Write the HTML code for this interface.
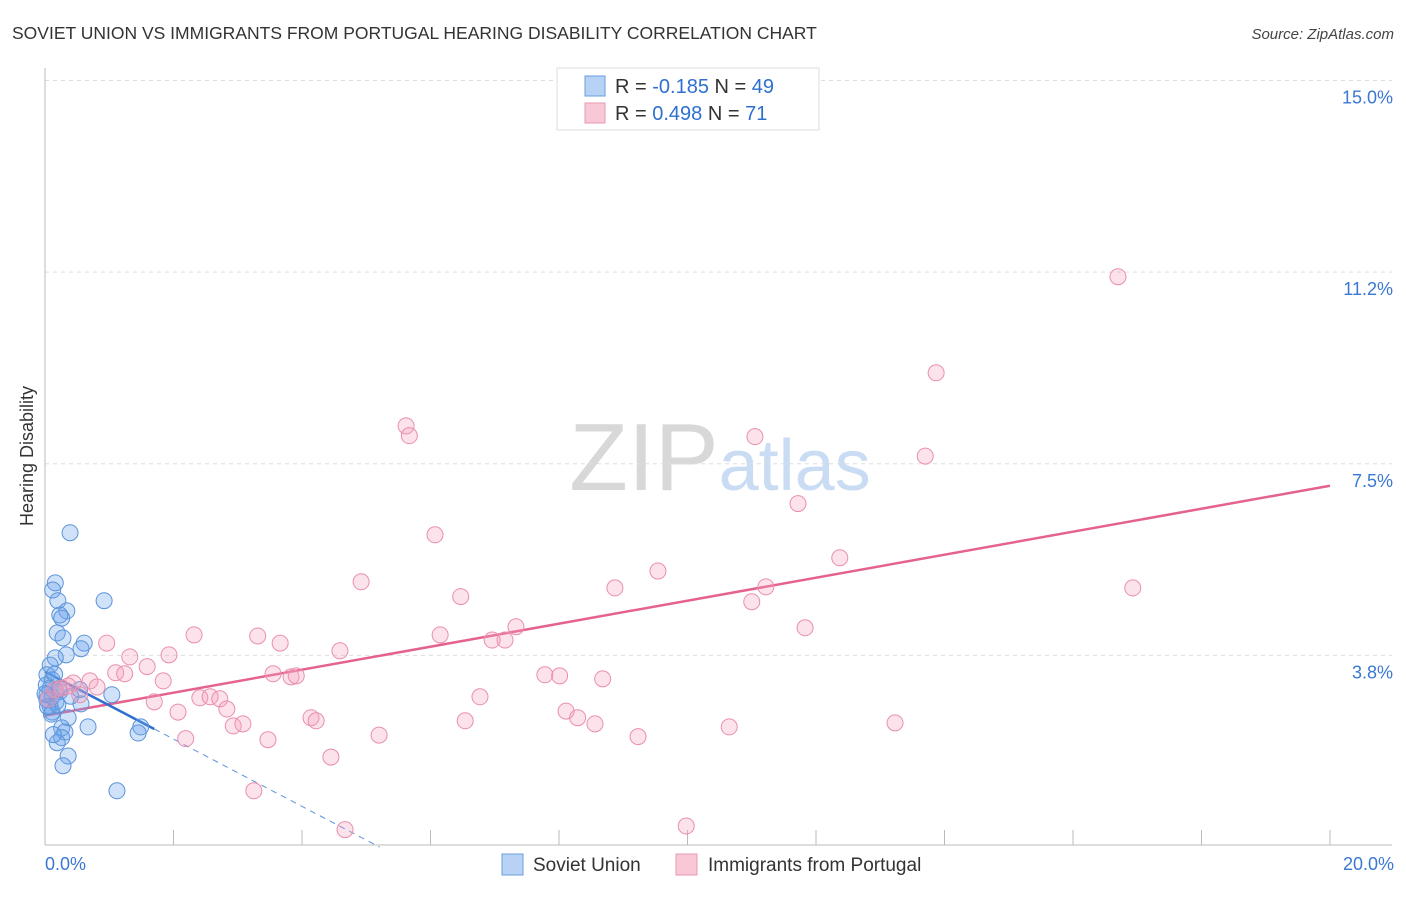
<!DOCTYPE html>
<html><head><meta charset="utf-8"><style>
body{margin:0;background:#fff;font-family:"Liberation Sans",sans-serif;}
svg text{font-family:"Liberation Sans",sans-serif;}
</style></head><body>
<svg id="chart" width="1406" height="892" viewBox="0 0 1406 892" xmlns="http://www.w3.org/2000/svg">
<text x="12" y="39" font-size="17.5" fill="#333">SOVIET UNION VS IMMIGRANTS FROM PORTUGAL HEARING DISABILITY CORRELATION CHART</text>
<text x="1394" y="39" font-size="15" fill="#444" text-anchor="end" font-style="italic">Source: ZipAtlas.com</text>
<text x="720" y="490" font-size="96" fill="#ddd" text-anchor="middle" font-family="Liberation Serif"><tspan fill="#d8d8d8">ZIP</tspan><tspan fill="#c9dcf3" font-family="Liberation Sans" font-size="72">atlas</tspan></text>
<text transform="translate(33,456) rotate(-90)" font-size="18" fill="#333" text-anchor="middle">Hearing Disability</text>
<g id="grid"></g><g id="axes"></g><g id="lines"></g><g id="pts"></g>
<g>
<rect x="557" y="68" width="262" height="62" fill="#fff" stroke="#ddd"/>
<rect x="585" y="76" width="20" height="20" fill="#b7d2f5" stroke="#6a9ee0"/>
<rect x="585" y="103" width="20" height="20" fill="#f9c8d7" stroke="#e89ab3"/>
<text x="615" y="93" font-size="20" fill="#333">R = <tspan fill="#2e6fd0">-0.185</tspan>   N = <tspan fill="#2e6fd0">49</tspan></text>
<text x="615" y="120" font-size="20" fill="#333">R =  <tspan fill="#2e6fd0">0.498</tspan>   N =  <tspan fill="#2e6fd0">71</tspan></text>
</g>
<g>
<rect x="502" y="854" width="21" height="21" fill="#b7d2f5" stroke="#6a9ee0"/>
<text x="533" y="871" font-size="19" fill="#333">Soviet Union</text>
<rect x="676" y="854" width="21" height="21" fill="#f9c8d7" stroke="#e89ab3"/>
<text x="708" y="871" font-size="19" fill="#333">Immigrants from Portugal</text>
</g>
</svg>
<script>
const yTicks=[15,11.25,7.5,3.75];
const yTickLabels=["15.0%","11.2%","7.5%","3.8%"];
const xTicks=[0,2,4,6,8,10,12,14,16,18,20];
const sovietX=[0.39,0.16,0.12,0.2,0.92,0.34,0.23,0.26,0.19,0.28,0.61,0.56,0.33,0.16,0.08,0.03,0.11,0.08,0.16,0.23,0.54,1.04,0.17,0.56,0.08,0.11,0.36,0.67,0.26,0.31,1.49,1.45,0.26,0.19,0.36,0.28,1.12,0.03,0.03,0.11,0.02,0.1,0.04,0.15,0.22,0.0,0.4,0.13,0.2];
const sovietY=[6.15,5.17,5.03,4.82,4.82,4.62,4.54,4.48,4.19,4.09,3.99,3.88,3.76,3.7,3.56,3.37,3.27,3.11,3.08,3.04,3.08,2.98,2.84,2.8,2.76,2.64,2.53,2.35,2.33,2.25,2.35,2.23,2.14,2.04,1.78,1.59,1.1,2.98,2.88,2.94,3.17,2.6,2.75,3.38,3.1,3.0,2.95,2.2,2.78];
const portX=[16.7,13.87,5.62,5.67,11.05,13.7,11.72,6.07,12.37,9.54,4.92,11.22,16.93,8.87,6.47,11.0,7.33,11.83,2.32,6.15,3.31,6.96,7.16,0.96,3.66,4.59,1.93,1.32,1.59,1.1,1.24,3.55,7.78,8.01,3.83,3.91,1.84,8.68,0.7,0.44,0.81,0.26,1.7,6.77,2.41,2.57,2.72,2.83,2.07,4.14,4.22,8.11,8.29,8.56,6.54,2.93,3.08,13.23,10.65,5.2,3.47,9.23,2.19,4.45,3.25,4.67,9.98,0.16,0.36,0.54,0.05];
const portY=[11.16,9.28,8.24,8.05,8.03,7.65,6.72,6.11,5.66,5.4,5.19,5.09,5.07,5.07,4.9,4.8,4.31,4.29,4.15,4.15,4.13,4.05,4.05,3.99,3.99,3.84,3.76,3.72,3.53,3.41,3.39,3.39,3.37,3.35,3.33,3.35,3.25,3.29,3.25,3.21,3.13,3.11,2.84,2.94,2.92,2.94,2.9,2.7,2.64,2.53,2.47,2.66,2.53,2.41,2.47,2.37,2.41,2.43,2.35,2.19,2.1,2.16,2.12,1.76,1.1,0.34,0.41,3.08,3.15,2.98,2.9];
const portTrend=[2.57,7.07];
const sovietTrend=[3.43,2.31,1.7];
const NS="http://www.w3.org/2000/svg";
const X0=45,X1=1330,Y0=847,PPU=51.1;
const xs=v=>X0+(v/20)*(X1-X0);
const ys=v=>Y0-v*PPU;
function mk(tag,attrs,parent){const e=document.createElementNS(NS,tag);for(const k in attrs)e.setAttribute(k,attrs[k]);document.getElementById(parent).appendChild(e);return e;}
yTicks.forEach((t,i)=>{
 const l=mk('line',{x1:X0,x2:1392,y1:ys(t),y2:ys(t),stroke:'#ddd','stroke-dasharray':'4,4'},'grid');
 
 
 const tx=mk('text',{x:1393,y:ys(t)+23,'font-size':18,fill:'#3a78d4','text-anchor':'end'},'grid');
 tx.textContent=yTickLabels[i];
 
 
});
const ax=mk('line',{x1:X0,x2:X0,y1:68,y2:845,stroke:'#bbb'},'axes');


const bx=mk('line',{x1:X0,x2:1392,y1:845,y2:845,stroke:'#bbb'},'axes');


xTicks.forEach(t=>{
 const l=mk('line',{x1:xs(t),x2:xs(t),y1:830,y2:845,stroke:'#bbb'},'axes');
 
 
});
const xl0=mk('text',{x:45,y:870,'font-size':18,fill:'#3a78d4'},'axes');xl0.textContent='0.0%';


const xl1=mk('text',{x:1394,y:870,'font-size':18,fill:'#3a78d4','text-anchor':'end'},'axes');xl1.textContent='20.0%';


sovietX.forEach((v,i)=>{
 const c=mk('circle',{cx:xs(v),cy:ys(sovietY[i]),r:8,fill:'rgba(110,165,235,0.32)',stroke:'#5b93d9','stroke-width':1},'pts');
 
 
});
portX.forEach((v,i)=>{
 const c=mk('circle',{cx:xs(v),cy:ys(portY[i]),r:8,fill:'rgba(245,160,190,0.3)',stroke:'#e98fad','stroke-width':1},'pts');
 
 
});
const pl=mk('line',{x1:xs(0),y1:ys(portTrend[0]),x2:xs(20),y2:ys(portTrend[1]),stroke:'#e5628d','stroke-width':2.5},'lines');


const slope=(sovietTrend[1]-sovietTrend[0])/sovietTrend[2];
const sl=mk('line',{x1:xs(0),y1:ys(sovietTrend[0]),x2:xs(sovietTrend[2]),y2:ys(sovietTrend[1]),stroke:'#2e6fd0','stroke-width':2.5},'lines');


const xEnd=-sovietTrend[0]/slope;
const sd=mk('line',{x1:xs(sovietTrend[2]),y1:ys(sovietTrend[1]),x2:xs(xEnd),y2:ys(0),stroke:'#5b93d9','stroke-width':1,'stroke-dasharray':'6,5'},'lines');


</script>
</body></html>
